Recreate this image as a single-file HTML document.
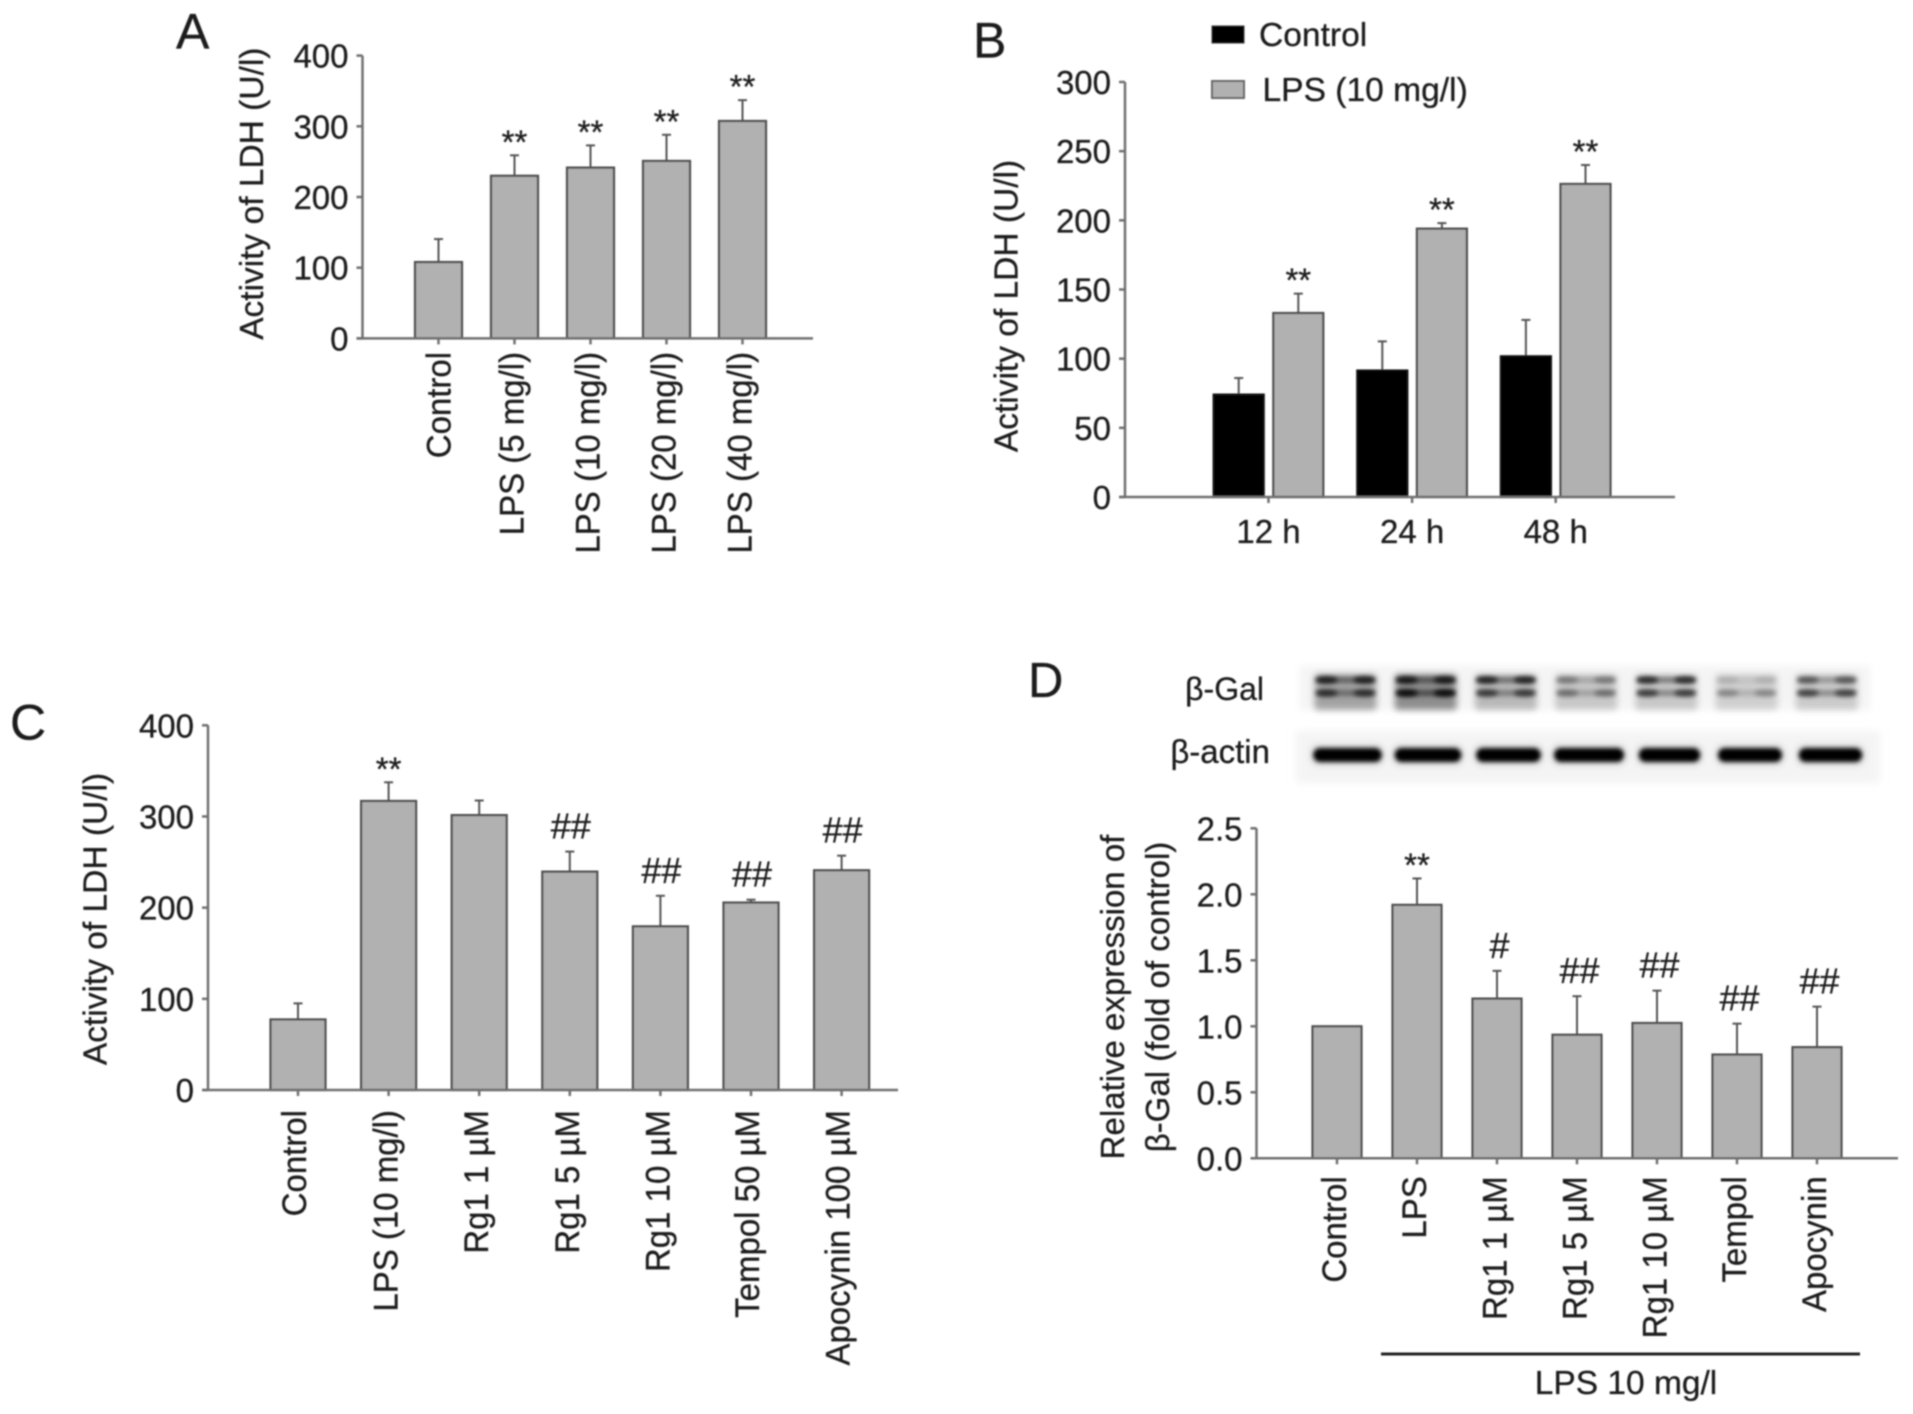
<!DOCTYPE html>
<html lang="en">
<head>
<meta charset="utf-8">
<title>LDH activity and β-Gal expression panels</title>
<style>
html,body{margin:0;padding:0;background:#fff;width:1913px;height:1414px;overflow:hidden}
svg{display:block;position:absolute;left:0;top:0}
text{font-family:"Liberation Sans",sans-serif;fill:#1d1d1d;stroke:#1d1d1d;stroke-width:.3px}
</style>
</head>
<body>
<svg id="figure" xmlns="http://www.w3.org/2000/svg" width="1913" height="1414" viewBox="0 0 1913 1414">
  <defs>
    <filter id="soft" x="-2%" y="-2%" width="104%" height="104%"><feGaussianBlur stdDeviation="0.7"/></filter>
    <filter id="bandBlur" x="-40%" y="-200%" width="180%" height="500%"><feGaussianBlur stdDeviation="2.4"/></filter>
    <filter id="smearBlur" x="-30%" y="-60%" width="160%" height="220%"><feGaussianBlur stdDeviation="3.5"/></filter>
    <filter id="bgBlur" x="-10%" y="-40%" width="120%" height="180%"><feGaussianBlur stdDeviation="4"/></filter>
  </defs>
  <g id="blot"></g>
  <g id="plots" filter="url(#soft)">
    <text x="176" y="48.7" font-size="50">A</text>
    <text x="973" y="57.6" font-size="50">B</text>
    <text x="10" y="739.6" font-size="50">C</text>
    <text x="1028" y="697" font-size="49">D</text>
    <text x="1264" y="700" font-size="32" text-anchor="end">β-Gal</text>
    <text x="1270" y="763" font-size="33" text-anchor="end">β-actin</text>
    <line x1="1381" x2="1860" y1="1354" y2="1354" stroke="#222" stroke-width="3"/>
    <text x="1626" y="1394" font-size="33.5" text-anchor="middle">LPS 10 mg/l</text>
    <rect x="1212" y="26" width="32" height="17" fill="#000" stroke="#333" stroke-width="1"/>
    <text x="1259" y="46" font-size="33.6">Control</text>
    <rect x="1212" y="81" width="32" height="17" fill="#b1b1b1" stroke="#666" stroke-width="2"/>
    <text x="1262.5" y="101" font-size="33.6">LPS (10 mg/l)</text>
  </g>
</svg>
<script>
// Panel A data
const aCategories = ['Control', 'LPS (5 mg/l)', 'LPS (10 mg/l)', 'LPS (20 mg/l)', 'LPS (40 mg/l)'];
const aValues = [108, 230, 241.6, 251, 307.5];
const aErrorTops = [140.5, 259, 273, 288, 337];
const aMarks = ['', '**', '**', '**', '**'];
const aTicks = [0, 100, 200, 300, 400];

// Panel B data
const bCategories = ['12 h', '24 h', '48 h'];
const bControl = [74, 91.4, 101.7];
const bControlErrorTops = [86, 112.5, 128];
const bLps = [133, 194, 226.3];
const bLpsErrorTops = [147, 198, 240];
const bMarks = ['**', '**', '**'];
const bTicks = [0, 50, 100, 150, 200, 250, 300];

// Panel C data
const cCategories = ['Control', 'LPS (10 mg/l)', 'Rg1 1 µM', 'Rg1 5 µM', 'Rg1 10 µM', 'Tempol 50 µM', 'Apocynin 100 µM'];
const cValues = [77.4, 317, 301.5, 239.5, 179.5, 205.6, 241];
const cErrorTops = [95, 337.5, 317.5, 261.5, 213, 208.7, 257];
const cMarks = ['', '**', '', '##', '##', '##', '##'];
const cTicks = [0, 100, 200, 300, 400];

// Panel D data
const dCategories = ['Control', 'LPS', 'Rg1 1 µM', 'Rg1 5 µM', 'Rg1 10 µM', 'Tempol', 'Apocynin'];
const dValues = [1.0, 1.92, 1.21, 0.936, 1.025, 0.786, 0.842];
const dErrorTops = [1.0, 2.12, 1.42, 1.228, 1.27, 1.02, 1.149];
const dMarks = ['', '**', '#', '##', '##', '##', '##'];
const dTicks = [0, 0.5, 1.0, 1.5, 2.0, 2.5];
const dTickLabels = ['0.0', '0.5', '1.0', '1.5', '2.0', '2.5'];

// Western blot band intensities, one per lane
const galUpper = [0.72, 0.75, 0.72, 0.3, 0.68, 0.1, 0.45];
const galLower = [0.62, 0.85, 0.58, 0.34, 0.58, 0.25, 0.55];
const galSmear = [0.33, 0.42, 0.24, 0.18, 0.18, 0.15, 0.17];
const actinLevel = [1, 1, 1, 1, 1, 1, 1];
const actinBreadth = [1.04, 1.01, 0.98, 1.06, 0.93, 0.97, 0.96];

const NS = 'http://www.w3.org/2000/svg';
const plots = document.getElementById('plots');
const blot = document.getElementById('blot');

function mk(tag, attrs, parent, content) {
  const node = document.createElementNS(NS, tag);
  for (const key in attrs) node.setAttribute(key, attrs[key]);
  if (content !== undefined) node.textContent = content;
  parent.appendChild(node);
  return node;
}

const BAR_FILL = '#b1b1b1';
const BAR_STROKE = '#4d4d4d';
const AXIS = '#707070';

function drawAxes(g, p, ticks, labels) {
  const yAxis = mk('line', {x1: p.x0, x2: p.x0, y1: p.yTop, y2: p.y0, stroke: AXIS, 'stroke-width': 2.5}, g);
  
  
  const xAxis = mk('line', {x1: p.x0 - 6, x2: p.xEnd, y1: p.y0, y2: p.y0, stroke: AXIS, 'stroke-width': 2.5}, g);
  
  
  ticks.forEach(function (t, i) {
    const y = p.y(t);
    const tick = mk('line', {x1: p.x0 - 6, x2: p.x0, y1: y, y2: y, stroke: AXIS, 'stroke-width': 2.5}, g);
    
    
    const label = mk('text', {x: p.x0 - 14, y: y + 12, 'font-size': 33, 'text-anchor': 'end'}, g, labels ? labels[i] : String(t));
    
    
  });
}

function drawBar(g, cx, width, value, errTop, y, fill, stroke) {
  const top = y(value), base = y(0);
  if (errTop > value) {
    const ey = y(errTop);
    const stem = mk('line', {x1: cx, x2: cx, y1: top, y2: ey, stroke: '#555', 'stroke-width': 2}, g);
    
    
    const cap = mk('line', {x1: cx - 4.5, x2: cx + 4.5, y1: ey, y2: ey, stroke: '#555', 'stroke-width': 2}, g);
    
    
  }
  const bar = mk('rect', {x: cx - width / 2, y: top, width: width, height: base - top, fill: fill, stroke: stroke, 'stroke-width': 2.2}, g);
  
  
}

function drawMark(g, cx, errTopY, mark, hashShift) {
  if (!mark) return;
  const isHash = mark.charAt(0) === '#';
  const centerY = errTopY - (isHash ? 26 : 20);
  const text = mk('text', {x: cx + (isHash ? hashShift : 0), y: centerY + (isHash ? 13 : 18), 'font-size': isHash ? 36 : 33, 'text-anchor': 'middle'}, g, mark);
  
  
}

function drawRotatedLabel(g, cx, top, label, baselineOffset) {
  const text = mk('text', {
    transform: 'translate(' + (cx + baselineOffset) + ',' + top + ') rotate(-90) scale(1,1.03)',
    'font-size': 33, 'text-anchor': 'end'
  }, g, label);
  
  
}

function drawYTitle(g, x, y, label, size) {
  const text = mk('text', {
    transform: 'translate(' + x + ',' + y + ') rotate(-90)',
    'font-size': size || 33.5, 'text-anchor': 'middle'
  }, g, label);
  
  
}

function scale(yTop, y0, max) {
  return function (v) { return y0 - (v / max) * (y0 - yTop); };
}

function singleSeriesPanel(name, p, categories, values, errs, marks, ticks, tickLabels) {
  const g = mk('g', {}, plots);
  
  
  p.y = scale(p.yTop, p.y0, ticks[ticks.length - 1]);
  const x = function (i) { return p.first + p.step * i; };
  values.forEach(function (v, i) {
    drawBar(g, x(i), p.barWidth, v, errs[i], p.y, BAR_FILL, BAR_STROKE);
    const tick = mk('line', {x1: x(i), x2: x(i), y1: p.y0, y2: p.y0 + 6, stroke: AXIS, 'stroke-width': 2.5}, g);
    
    
    drawMark(g, x(i), p.y(errs[i]), marks[i], p.hashShift);
    const offset = /[g(]/.test(categories[i]) ? p.baseDescender : p.basePlain;
    drawRotatedLabel(g, x(i), p.y0 + p.labelGap, categories[i], offset);
  });
  drawAxes(g, p, ticks, tickLabels);
}

singleSeriesPanel('panel-a-chart', {x0: 362.5, yTop: 55.6, y0: 338.4, xEnd: 813, first: 438.5, step: 76, barWidth: 47, labelGap: 13.5, basePlain: 12, baseDescender: 9, hashShift: 0}, aCategories, aValues, aErrorTops, aMarks, aTicks);
singleSeriesPanel('panel-c-chart', {x0: 208, yTop: 725.3, y0: 1090, xEnd: 898, first: 298, step: 90.6, barWidth: 55, labelGap: 20, basePlain: 8, baseDescender: 9, hashShift: 1}, cCategories, cValues, cErrorTops, cMarks, cTicks);
singleSeriesPanel('panel-d-chart', {x0: 1256.5, yTop: 828.3, y0: 1158.3, xEnd: 1898, first: 1337, step: 80, barWidth: 49, labelGap: 18, basePlain: 9, baseDescender: 9.5, hashShift: 2.5}, dCategories, dValues, dErrorTops, dMarks, dTicks, dTickLabels);

drawYTitle(plots, 263, 193.7, 'Activity of LDH (U/l)');
drawYTitle(plots, 1017.5, 306, 'Activity of LDH (U/l)');
drawYTitle(plots, 106.5, 919, 'Activity of LDH (U/l)');
drawYTitle(plots, 1124, 997, 'Relative expression of', 33);
drawYTitle(plots, 1169, 997, 'β-Gal (fold of control)', 33);

// Panel B, grouped bars
(function () {
  const g = mk('g', {}, plots);
  
  
  const p = {x0: 1125, yTop: 82, y0: 497, xEnd: 1675};
  p.y = scale(p.yTop, p.y0, bTicks[bTicks.length - 1]);
  const x = function (i) { return 1268.5 + 143.6 * i; };
  bCategories.forEach(function (cat, i) {
    drawBar(g, x(i) - 29.8, 50, bControl[i], bControlErrorTops[i], p.y, '#000', '#111');
    drawBar(g, x(i) + 29.8, 50, bLps[i], bLpsErrorTops[i], p.y, BAR_FILL, BAR_STROKE);
    drawMark(g, x(i) + 29.8, p.y(bLpsErrorTops[i]), bMarks[i], 0);
    const tick = mk('line', {x1: x(i), x2: x(i), y1: p.y0, y2: p.y0 + 6, stroke: AXIS, 'stroke-width': 2.5}, g);
    
    
    const label = mk('text', {x: x(i), y: 543, 'font-size': 33, 'text-anchor': 'middle'}, g, cat);
    
    
  });
  drawAxes(g, p, bTicks);
})();

// Western blot
(function () {
  const bgGal = mk('rect', {x: 1300, y: 666, width: 570, height: 44, fill: '#f4f4f4', filter: 'url(#bgBlur)'}, blot);
  
  
  const bgActin = mk('rect', {x: 1296, y: 731, width: 584, height: 52, fill: '#f4f4f4', filter: 'url(#bgBlur)'}, blot);
  
  
  const galX = function (i) { return 1345.5 + 80.2 * i; };
  const actinX = function (i) { return 1347.5 + 80.5 * i; };

  function drawGalBand(cx, y, level, name) {
    const bridge = mk('rect', {x: cx - 29, y: y - 3, width: 58, height: 6, rx: 3, fill: '#000', opacity: level * 0.55, filter: 'url(#bandBlur)'}, blot);
    
    
    [-19, 19].forEach(function (shift) {
      const lump = mk('ellipse', {cx: cx + shift, cy: y, rx: 11, ry: 3.5, fill: '#000', opacity: level, filter: 'url(#bandBlur)'}, blot);
      
      
    });
  }

  galUpper.forEach(function (level, i) {
    const smear = mk('rect', {x: galX(i) - 31, y: 674, width: 62, height: 36, rx: 3, fill: '#000', opacity: galSmear[i], filter: 'url(#smearBlur)'}, blot);
    
    
    drawGalBand(galX(i), 680, level, 'beta-gal-upper-band');
    drawGalBand(galX(i), 693, galLower[i], 'beta-gal-lower-band');
  });
  actinLevel.forEach(function (level, i) {
    const width = 66 * actinBreadth[i];
    const halo = mk('rect', {x: actinX(i) - width / 2 - 3, y: 744, width: width + 6, height: 22, rx: 9, fill: '#000', opacity: 0.1, filter: 'url(#smearBlur)'}, blot);
    
    
    const band = mk('rect', {x: actinX(i) - width / 2, y: 748, width: width, height: 14, rx: 7, fill: '#000', opacity: level, filter: 'url(#bandBlur)'}, blot);
    
    
  });
})();
</script>
</body>
</html>
